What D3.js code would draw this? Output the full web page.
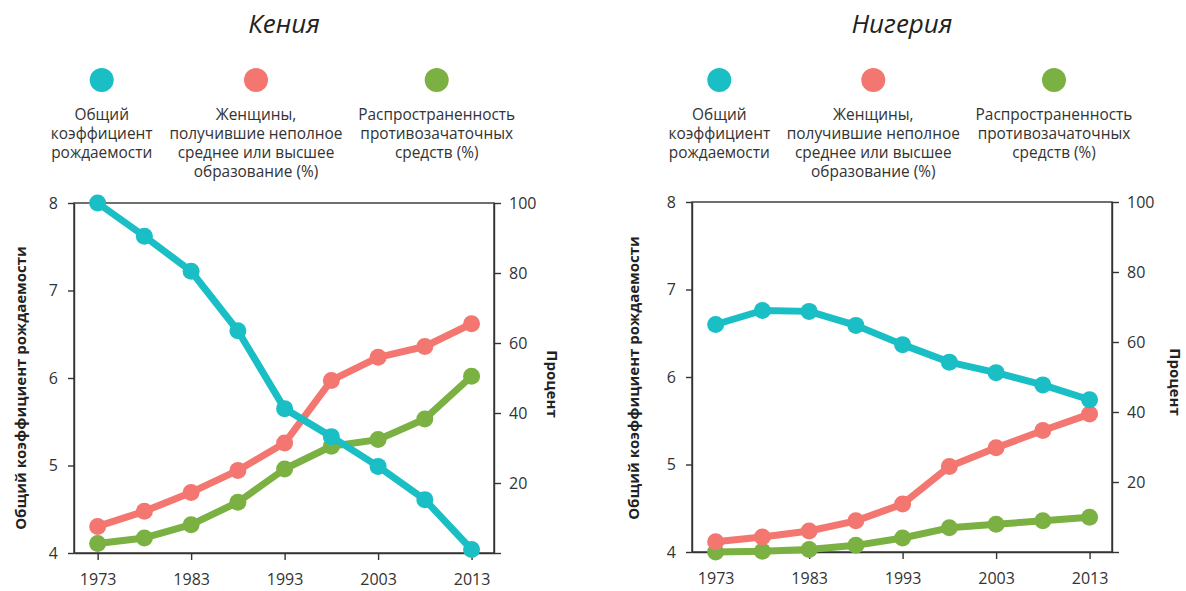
<!DOCTYPE html>
<html>
<head>
<meta charset="utf-8">
<script src="https://cdn.jsdelivr.net/npm/d3@7"></script>
<style>
  body { margin: 0; background: #fff; }
  svg { font-family: "Open Sans", sans-serif; }
  .axis { font-family: "Open Sans", sans-serif; }
  .axis path, .axis line { stroke: #333; stroke-width: 1.4; }
  .axis text { font-size: 16px; fill: #333; font-family: "Open Sans", sans-serif; }
</style>
</head>
<body>
<svg id="chart" width="1186" height="591"></svg>
<script>
const years = [1973, 1978, 1983, 1988, 1993, 1998, 2003, 2008, 2013]
const xTicks = [1973, 1983, 1993, 2003, 2013]
const fertTicks = [4, 5, 6, 7, 8]
const pctTicks = [0, 20, 40, 60, 80, 100]

const countries = ["Кения", "Нигерия"]
const seriesNames = [
  ["Общий", "коэффициент", "рождаемости"],
  ["Женщины,", "получившие неполное", "среднее или высшее", "образование (%)"],
  ["Распространенность", "противозачаточных", "средств (%)"]
]
const colors = ["#1abec5", "#f37770", "#7bb043"]

const kenyaFertility = [8.0, 7.62, 7.22, 6.54, 5.65, 5.33, 4.99, 4.61, 4.04]
const kenyaEducation = [7.6, 11.9, 17.3, 23.6, 31.4, 49.3, 55.9, 59.0, 65.5]
const kenyaContraception = [2.7, 4.3, 8.1, 14.5, 24.0, 30.5, 32.4, 38.3, 50.5]

const nigeriaFertility = [6.60, 6.76, 6.75, 6.59, 6.37, 6.17, 6.05, 5.91, 5.74]
const nigeriaEducation = [2.9, 4.3, 6.0, 8.9, 13.7, 24.4, 29.8, 34.7, 39.4]
const nigeriaContraception = [0.0, 0.2, 0.7, 1.9, 4.0, 6.9, 7.9, 8.9, 9.9]

const svg = d3.select("#chart")
const W = 420, H = 350

const panels = [
  {name: countries[0], left: 74, top: 203, fert: kenyaFertility, edu: kenyaEducation, contra: kenyaContraception,
   legendX: [101.7, 256, 436.7], leftLabel: [-53, 185], rightLabel: [58, 181]},
  {name: countries[1], left: 692, top: 202, fert: nigeriaFertility, edu: nigeriaEducation, contra: nigeriaContraception,
   legendX: [719.3, 873.3, 1054], leftLabel: [-58, 176], rightLabel: [63, 180]}
]

panels.forEach(p => {
  // title
  svg.append("text")
    .attr("x", p.left + W / 2).attr("y", 33)
    .attr("text-anchor", "middle")
    .style("font-size", "26px").style("font-style", "italic").style("fill", "#222")
    .text(p.name)

  // legend
  seriesNames.forEach((lines, i) => {
    svg.append("circle").attr("cx", p.legendX[i]).attr("cy", 80).attr("r", 12).attr("fill", colors[i])
    const t = svg.append("text").attr("text-anchor", "middle")
      .style("font-size", "15.4px").style("fill", "#333")
    lines.forEach((l, j) => {
      t.append("tspan").attr("x", p.legendX[i]).attr("y", 120 + j * 19).text(l)
    })
  })

  const g = svg.append("g").attr("transform", `translate(${p.left},${p.top})`)
  const x = d3.scaleLinear().domain([1970.47, 2015.4]).range([0, W])
  const yL = d3.scaleLinear().domain([4, 8]).range([H, 0])
  const yR = d3.scaleLinear().domain([0, 100]).range([H, 0])

  g.append("rect").attr("width", W).attr("height", H)
    .attr("fill", "none").attr("stroke", "#333").attr("stroke-width", 1.4)

  g.append("g").attr("class", "axis").attr("transform", `translate(0,${H})`)
    .call(d3.axisBottom(x).tickValues(xTicks).tickFormat(d3.format("d")).tickSize(7).tickPadding(14).tickSizeOuter(0))
  g.append("g").attr("class", "axis")
    .call(d3.axisLeft(yL).tickValues(fertTicks).tickFormat(d3.format("d")).tickSize(6).tickPadding(10).tickSizeOuter(0))
  g.append("g").attr("class", "axis").attr("transform", `translate(${W},0)`)
    .call(d3.axisRight(yR).tickValues(pctTicks).tickFormat(d => d === 0 ? "" : d).tickSize(7).tickPadding(8).tickSizeOuter(0))

  g.append("text")
    .attr("transform", `translate(${p.leftLabel[0]},${p.leftLabel[1]}) rotate(-90)`)
    .attr("text-anchor", "middle").attr("dy", "0.35em")
    .style("font-size", "15px").style("font-weight", "bold").style("fill", "#222")
    .text("Общий коэффициент рождаемости")
  g.append("text")
    .attr("transform", `translate(${W + p.rightLabel[0]},${p.rightLabel[1]}) rotate(90)`)
    .attr("text-anchor", "middle").attr("dy", "0.35em")
    .style("font-size", "15px").style("font-weight", "bold").style("fill", "#222")
    .text("Процент")

  const series = [
    {vals: p.fert, y: yL, c: colors[0]},
    {vals: p.edu, y: yR, c: colors[1]},
    {vals: p.contra, y: yR, c: colors[2]}
  ]
  // teal drawn on top, as at the Kenya crossing
  const order = [2, 1, 0]
  order.forEach(k => {
    const s = series[k]
    const pts = years.map((yr, i) => [x(yr), s.y(s.vals[i])])
    g.append("path").attr("d", d3.line()(pts))
      .attr("fill", "none").attr("stroke", s.c).attr("stroke-width", 7).attr("stroke-linejoin", "round")
    g.selectAll(null).data(pts).join("circle")
      .attr("cx", d => d[0]).attr("cy", d => d[1]).attr("r", 8.5).attr("fill", s.c)
  })
})
</script>
</body>
</html>
